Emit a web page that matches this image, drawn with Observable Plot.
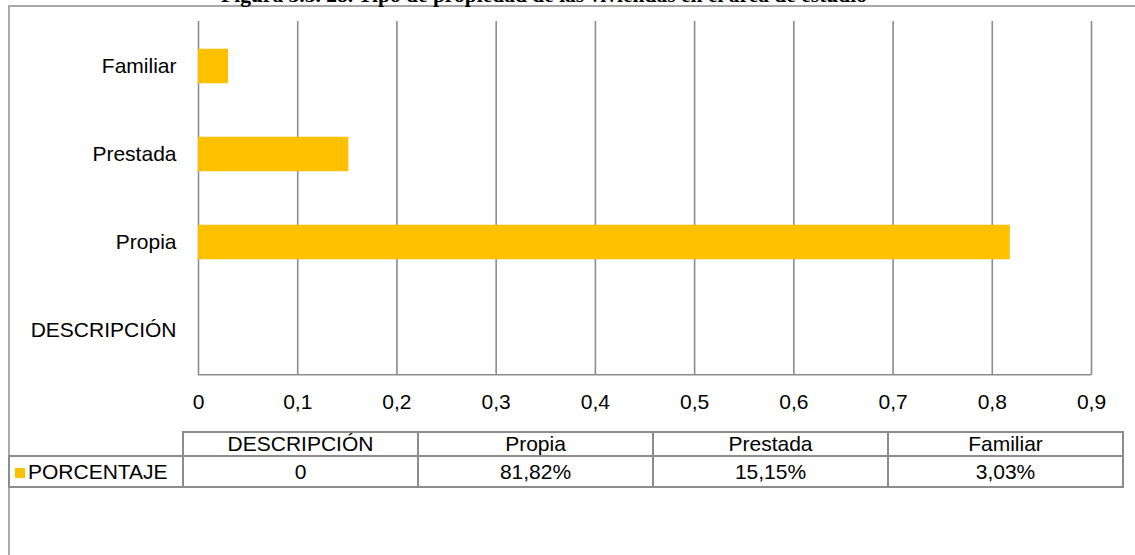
<!DOCTYPE html>
<html>
<head>
<meta charset="utf-8">
<script src="https://cdn.jsdelivr.net/npm/d3@7"></script>
<script src="https://cdn.jsdelivr.net/npm/@observablehq/plot@0.6"></script>
<style>
  html, body { margin: 0; padding: 0; background: #fff; }
  #wrap { position: relative; width: 1135px; height: 555px; overflow: hidden; font-family: "Liberation Sans", Arial, sans-serif; }
  #frame { position: absolute; left: 8px; top: 5px; right: 0; bottom: -4px; border-top: 2px solid #a9a9a9; border-left: 2px solid #a9a9a9; }
  #title { position: absolute; left: 0; width: 1088px; top: -15.5px; text-align: center; font-family: "Liberation Serif", "Times New Roman", serif; font-weight: bold; font-size: 21.5px; line-height: 21px; color: #000; white-space: nowrap; }
  #chart { position: absolute; left: 0; top: 0; }
  #tbl { position: absolute; left: 8px; top: 431px; border-collapse: collapse; table-layout: fixed; width: 1114px; font-size: 21px; color: #000; }
  #tbl td { border: 2px solid #8c8c8c; text-align: center; padding: 0; white-space: nowrap; overflow: hidden; }
  #tbl tr.h td { height: 22px; line-height: 22px; }
  #tbl tr.d td { height: 29px; line-height: 29px; }
  #tbl td.blank { border-top: none; border-left: none; }
  #tbl td.name { text-align: left; padding-left: 5px; }
  .sw { display: inline-block; width: 10px; height: 10px; background: #FFC000; margin-right: 3px; vertical-align: 1px; }
</style>
</head>
<body>
<div id="wrap">
  <div id="frame"></div>
  <div id="title"></div>
  <div id="chart"></div>
  <table id="tbl"></table>
</div>
<script>
// ---- data ----
const titleText = "Figura 3.5. 28. Tipo de propiedad de las viviendas en el área de estudio";
const categories = ["DESCRIPCIÓN", "Propia", "Prestada", "Familiar"];
const values = [0, 0.8182, 0.1515, 0.0303];
const valueLabels = ["0", "81,82%", "15,15%", "3,03%"];
const seriesName = "PORCENTAJE";
const xTicks = [0, 0.1, 0.2, 0.3, 0.4, 0.5, 0.6, 0.7, 0.8, 0.9];
const xTickLabels = ["0", "0,1", "0,2", "0,3", "0,4", "0,5", "0,6", "0,7", "0,8", "0,9"];

const barColor = "#FFC000";
const gridColor = "#8c8c8c";

const rows = categories.map((c, i) => ({category: c, value: values[i]}));

const W = 1135, H = 420;
const mTop = 21, mBottom = 45, mLeft = 198, mRight = 44;
const bandH = (H - mTop - mBottom) / categories.length;
const barH = 35;
const inset = (bandH - barH) / 2;

document.getElementById("title").textContent = titleText;

const chart = Plot.plot({
  width: W,
  height: H,
  marginTop: mTop,
  marginBottom: mBottom,
  marginLeft: mLeft,
  marginRight: mRight,
  style: {fontFamily: "'Liberation Sans', Arial, sans-serif", fontSize: "21px", color: "#000", background: "transparent"},
  x: {domain: [xTicks[0], xTicks[xTicks.length - 1]], ticks: xTicks, label: null},
  y: {domain: categories.slice().reverse(), padding: 0, label: null},
  marks: [
    Plot.ruleX(xTicks, {stroke: gridColor, strokeWidth: 1.6}),
    Plot.ruleY([categories[0]], {stroke: gridColor, strokeWidth: 1.6, dy: bandH / 2, x1: xTicks[0], x2: xTicks[xTicks.length - 1]}),
    Plot.barX(rows, {y: "category", x: "value", fill: barColor, insetTop: inset, insetBottom: inset}),
    Plot.axisX({ticks: xTicks, tickSize: 0, tickPadding: 19, tickFormat: (d) => xTickLabels[xTicks.indexOf(d)], fontSize: 21, label: null}),
    Plot.axisY({tickSize: 0, tickPadding: 22, fontSize: 21, label: null})
  ]
});
document.getElementById("chart").appendChild(chart);

// ---- data table ----
const tbl = document.getElementById("tbl");
const cg = document.createElement("colgroup");
[174, 235, 235, 235, 235].forEach(w => { const c = document.createElement("col"); c.style.width = w + "px"; cg.appendChild(c); });
tbl.appendChild(cg);
const hr = document.createElement("tr"); hr.className = "h";
const blank = document.createElement("td"); blank.className = "blank"; hr.appendChild(blank);
categories.forEach(c => { const td = document.createElement("td"); td.textContent = c; hr.appendChild(td); });
tbl.appendChild(hr);
const dr = document.createElement("tr"); dr.className = "d";
const nm = document.createElement("td"); nm.className = "name";
const sw = document.createElement("span"); sw.className = "sw"; nm.appendChild(sw);
nm.appendChild(document.createTextNode(seriesName));
dr.appendChild(nm);
valueLabels.forEach(v => { const td = document.createElement("td"); td.textContent = v; dr.appendChild(td); });
tbl.appendChild(dr);
</script>
</body>
</html>
